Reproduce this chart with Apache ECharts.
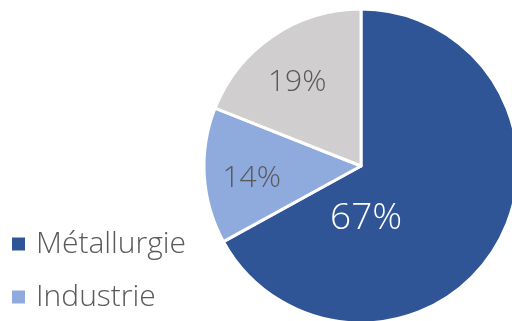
<!DOCTYPE html>
<html>
<head>
<meta charset="utf-8">
<script src="https://cdn.jsdelivr.net/npm/echarts@6/dist/echarts.min.js"></script>
<style>
  html, body { margin: 0; padding: 0; background: #fff; }
  #chart { width: 512px; height: 321px; }
</style>
</head>
<body>
<div id="chart"></div>
<script>
// Sector shares (percent), clockwise from 12 o'clock
const categories = ['Métallurgie', 'Industrie', 'Autres'];
const shares = [67, 14, 19];
const sliceColors = ['#2F5597', '#8FAADC', '#D0CECE'];
const labelColors = ['#ffffff', '#595959', '#595959'];
const labelSizes = [37, 30, 30];
// nudges applied to the default inside label anchor
const labelNudge = [[-65, 11], [-28, 7], [-18, -16]];

const FONT = '"Open Sans", "Noto Sans", sans-serif';

const chart = echarts.init(document.getElementById('chart'), null, { renderer: 'canvas' });

chart.setOption({
  animation: false,
  legend: {
    orient: 'vertical',
    left: 5,
    top: 224,
    height: 200,
    data: categories.slice(0, 2),
    icon: 'rect',
    itemWidth: 15,
    itemHeight: 15,
    itemGap: 23,
    textStyle: {
      fontFamily: FONT,
      fontWeight: 300,
      fontSize: 30,
      lineHeight: 30,
      color: '#595959',
      padding: [0, 0, 0, 5]
    }
  },
  series: [{
    type: 'pie',
    center: [361, 166],
    radius: 157,
    startAngle: 90,
    clockwise: true,
    avoidLabelOverlap: false,
    itemStyle: { borderColor: '#ffffff', borderWidth: 3 },
    label: {
      show: true,
      position: 'inside',
      formatter: '{c}%',
      fontFamily: FONT,
      fontWeight: 300
    },
    labelLine: { show: false },
    labelLayout: function (p) {
      const n = labelNudge[p.dataIndex];
      return { dx: n[0], dy: n[1] };
    },
    emphasis: { disabled: true },
    data: categories.map((name, i) => ({
      name: name,
      value: shares[i],
      itemStyle: { color: sliceColors[i] },
      label: { color: labelColors[i], fontSize: labelSizes[i] }
    }))
  }]
});
</script>
</body>
</html>
